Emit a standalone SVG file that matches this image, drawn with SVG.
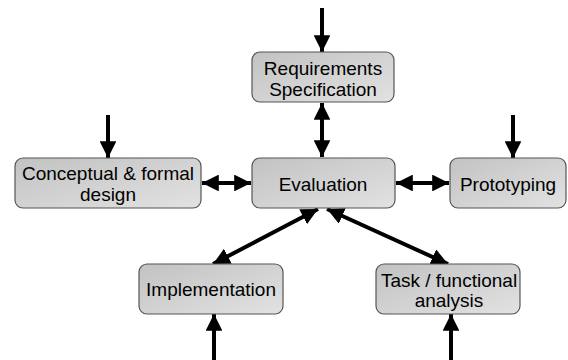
<svg xmlns="http://www.w3.org/2000/svg" width="568" height="360" viewBox="0 0 568 360">
  <defs>
    <linearGradient id="boxFill" x1="0" y1="0" x2="1" y2="1">
      <stop offset="0" stop-color="#c2c2c2"/>
      <stop offset="1" stop-color="#e2e2e2"/>
    </linearGradient>
    <marker id="head" viewBox="0 0 10 10" refX="10" refY="5" markerWidth="4.2" markerHeight="4.2" markerUnits="strokeWidth" orient="auto-start-reverse">
      <path d="M0,0 L10,5 L0,10 Z" fill="#000"/>
    </marker>
    <style>
      .box { fill: url(#boxFill); stroke: #555; stroke-width: 1.2; }
      .lbl { font-family: "Liberation Sans", Arial, sans-serif; font-size: 19px; fill: #000; text-anchor: middle; }
      .one { stroke: #000; stroke-width: 4; fill: none; marker-end: url(#head); }
      .two { stroke: #000; stroke-width: 4; fill: none; marker-start: url(#head); marker-end: url(#head); }
    </style>
  </defs>

  <g id="connectors">
    <line class="one" x1="322" y1="8" x2="322" y2="52"/>
    <line class="one" x1="108" y1="115" x2="108" y2="158"/>
    <line class="one" x1="513" y1="115" x2="513" y2="158"/>
    <line class="one" x1="214" y1="360" x2="214" y2="314"/>
    <line class="one" x1="451" y1="360" x2="451" y2="314"/>
    <line class="two" x1="322" y1="103" x2="322" y2="157"/>
    <line class="two" x1="202" y1="183" x2="251" y2="183"/>
    <line class="two" x1="396" y1="183" x2="449" y2="183"/>
    <line class="two" x1="318" y1="209" x2="213" y2="264"/>
    <line class="two" x1="327" y1="209" x2="448" y2="264"/>
  </g>

  <g id="requirements">
    <rect class="box" x="252" y="52" width="142" height="50" rx="8"/>
    <text class="lbl" x="323" y="75">Requirements</text>
    <text class="lbl" x="323" y="96">Specification</text>
  </g>
  <g id="evaluation">
    <rect class="box" x="252" y="158" width="143" height="50" rx="8"/>
    <text class="lbl" x="323" y="190.5">Evaluation</text>
  </g>
  <g id="conceptual">
    <rect class="box" x="15" y="158" width="186" height="50" rx="8"/>
    <text class="lbl" x="108" y="180">Conceptual &amp; formal</text>
    <text class="lbl" x="108" y="201">design</text>
  </g>
  <g id="prototyping">
    <rect class="box" x="450" y="158" width="116" height="50" rx="8"/>
    <text class="lbl" x="508" y="190.5">Prototyping</text>
  </g>
  <g id="implementation">
    <rect class="box" x="139" y="264" width="144" height="50" rx="8"/>
    <text class="lbl" x="211" y="296">Implementation</text>
  </g>
  <g id="task">
    <rect class="box" x="376" y="264" width="144" height="50" rx="8"/>
    <text class="lbl" x="449" y="286.5">Task / functional</text>
    <text class="lbl" x="449" y="306.5">analysis</text>
  </g>
</svg>
